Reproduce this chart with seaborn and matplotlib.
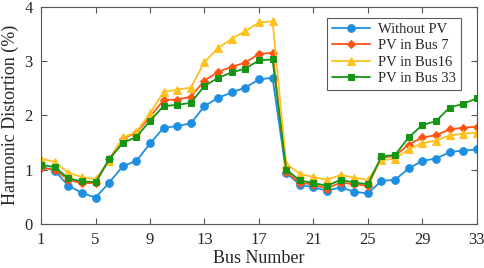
import numpy as np
import pandas as pd
import matplotlib
matplotlib.use("Agg")
import matplotlib.pyplot as plt
import seaborn as sns

buses = list(range(1, 34))
without_pv = [1.05, 0.98, 0.70, 0.57, 0.48, 0.76, 1.06, 1.16, 1.48, 1.77, 1.80, 1.85,
              2.17, 2.32, 2.42, 2.51, 2.66, 2.69, 0.94, 0.72, 0.67, 0.61, 0.67, 0.59,
              0.56, 0.79, 0.81, 1.02, 1.16, 1.20, 1.32, 1.35, 1.37]
pv_bus7 = [1.03, 1.00, 0.81, 0.75, 0.75, 1.19, 1.57, 1.68, 1.97, 2.28, 2.29, 2.34,
           2.64, 2.80, 2.89, 2.97, 3.13, 3.15, 0.95, 0.76, 0.72, 0.65, 0.76, 0.73,
           0.70, 1.22, 1.25, 1.46, 1.59, 1.63, 1.74, 1.77, 1.79]
pv_bus16 = [1.20, 1.14, 0.94, 0.86, 0.82, 1.16, 1.59, 1.69, 2.04, 2.43, 2.47, 2.51,
            2.98, 3.24, 3.41, 3.55, 3.71, 3.73, 1.11, 0.92, 0.86, 0.81, 0.90, 0.85,
            0.81, 1.17, 1.20, 1.37, 1.49, 1.53, 1.63, 1.66, 1.68]
pv_bus33 = [1.09, 1.04, 0.84, 0.78, 0.77, 1.19, 1.49, 1.60, 1.90, 2.17, 2.19, 2.23,
            2.54, 2.69, 2.79, 2.86, 3.01, 3.03, 1.00, 0.80, 0.75, 0.70, 0.81, 0.76,
            0.73, 1.24, 1.27, 1.59, 1.82, 1.89, 2.14, 2.21, 2.31]

labels = ["Without PV", "PV in Bus 7", "PV in Bus16", "PV in Bus 33"]
series = [without_pv, pv_bus7, pv_bus16, pv_bus33]
colors = ["#1E8FE0", "#FF5414", "#FFC020", "#149614"]
markers = ["o", "D", "^", "s"]
msizes = [5.5, 4.5, 6, 4.5]

sns.set_style("ticks")
plt.rcParams["font.family"] = ["Liberation Serif", "DejaVu Serif"]

df = pd.DataFrame({
    "Bus": buses * len(labels),
    "THD": sum(series, []),
    "case": np.repeat(labels, len(buses)),
})

fig, ax = plt.subplots(figsize=(4.84, 2.68), dpi=100)
for lab, col, mk, ms in zip(labels, colors, markers, msizes):
    sub = df[df["case"] == lab]
    sns.lineplot(data=sub, x="Bus", y="THD", ax=ax, color=col, marker=mk,
                 markersize=ms, markeredgecolor=col, linewidth=1.3, label=lab)

ax.set_xlim(1, 33)
ax.set_ylim(0, 4)
ax.set_xticks(range(1, 34, 4))
ax.set_yticks(range(0, 5))
ax.set_xlabel("Bus Number", fontsize=13, labelpad=1)
ax.set_ylabel("Harmonic Distortion (%)", fontsize=13, labelpad=4)
ax.tick_params(direction="in", top=True, right=True, labelsize=12, length=4,
               color="#555555", pad=6)
for s in ax.spines.values():
    s.set_color("#555555")
    s.set_linewidth(0.8)

leg = ax.legend(loc="upper right", fontsize=10.5, frameon=True, fancybox=False,
                edgecolor="#333333", handlelength=2.6, borderpad=0.3,
                labelspacing=0.22, handletextpad=0.6, bbox_to_anchor=(0.98, 0.98))
leg.get_frame().set_linewidth(0.8)

fig.subplots_adjust(left=0.085, right=0.985, top=0.975, bottom=0.165)
fig.savefig("out.png", dpi=100)
